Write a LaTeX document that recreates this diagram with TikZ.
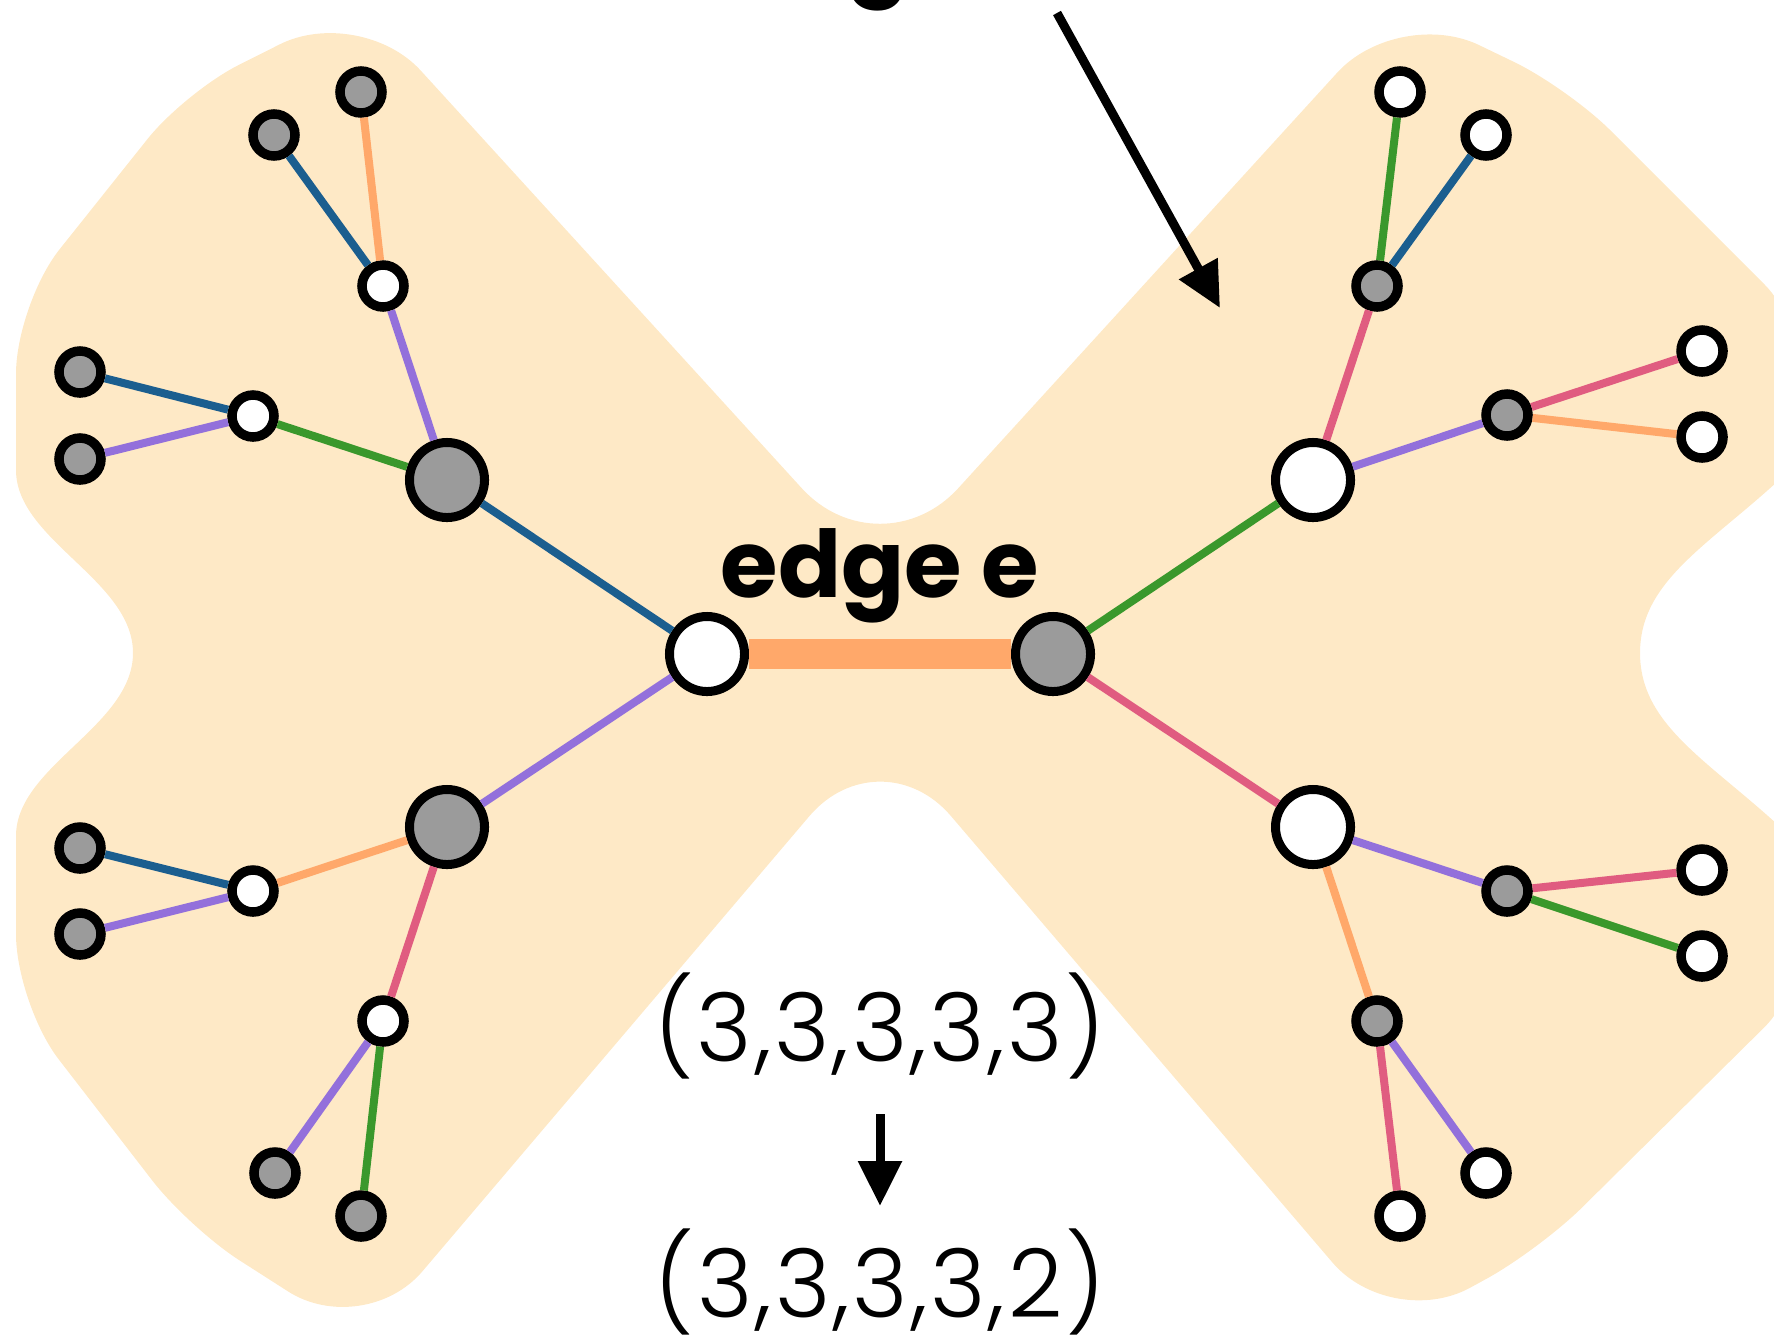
\documentclass[tikz,border=0pt]{standalone}
\usepackage{fontspec}
\setmainfont{Poppins}
\newfontfamily\seqfont{Poppins Light}[LetterSpace=3]
\usetikzlibrary{arrows.meta}
\definecolor{cblue}{RGB}{27,94,143}
\definecolor{cpurple}{RGB}{147,112,219}
\definecolor{cgreen}{RGB}{58,152,44}
\definecolor{cpink}{RGB}{224,92,128}
\definecolor{corange}{RGB}{255,168,106}
\definecolor{cblob}{RGB}{254,233,198}
\definecolor{cgray}{RGB}{155,155,155}
\begin{document}
\begin{tikzpicture}[x=0.01cm,y=-0.01cm,
  sm/.style={circle,draw=black,line width=0.095cm,minimum size=0.42cm,inner sep=0pt},
  bn/.style={circle,draw=black,line width=0.09cm,minimum size=0.75cm,inner sep=0pt},
  wh/.style={fill=white},
  gr/.style={fill=cgray},
  ed/.style={line width=0.08cm},
  bigarrow/.style={line width=0.09cm,-{Triangle[length=0.45cm,width=0.42cm]}},
  lbl/.style={inner sep=0pt,anchor=base,font=\fontsize{26.5pt}{30pt}\selectfont\bfseries},
  seq/.style={inner sep=0pt,anchor=base,font=\fontsize{27pt}{30pt}\selectfont\seqfont}]
\useasboundingbox (0,0) rectangle (1774,1336);
% background blob (radius of a corner is set just before the segment that reaches it)
\fill[cblob] (16,380) [rounded corners=7mm] -- (16,304) [rounded corners=6mm] -- (185,92)
  [rounded corners=9mm] -- (360,4) [rounded corners=11.6mm] -- (880,574)
  [rounded corners=9mm] -- (1398,6) [rounded corners=6mm] -- (1568,88)
  [rounded corners=5mm] -- (1800,320) [sharp corners] -- (1800,460)
  .. controls (1720,540) and (1640,575) .. (1640,653)
  .. controls (1640,731) and (1720,766) .. (1800,846)
  [rounded corners=5mm] -- (1800,992) [rounded corners=6mm] -- (1539,1250)
  [rounded corners=9mm] -- (1391,1331) [rounded corners=10.9mm] -- (880,733)
  [rounded corners=9mm] -- (364,1340) [rounded corners=6mm] -- (189,1228)
  [rounded corners=7mm] -- (16,1004) [sharp corners] -- (16,836)
  .. controls (16,766) and (133,726) .. (133,653)
  .. controls (133,580) and (16,540) .. (16,470) -- cycle;
% nodes
\node[bn,wh] (cL) at (707,654) {};
\node[bn,gr] (cR) at (1053,654) {};
\node[bn,gr] (LU) at (447,480) {};
\node[sm,wh] (LUa) at (383,286) {};
\node[sm,gr] (LUa1) at (274,135) {};
\node[sm,gr] (LUa2) at (361,92) {};
\node[sm,wh] (LUb) at (253,416) {};
\node[sm,gr] (LUb1) at (80,372) {};
\node[sm,gr] (LUb2) at (80,459) {};
\node[bn,gr] (LL) at (447,827) {};
\node[sm,wh] (LLb) at (253,891) {};
\node[sm,gr] (LLb1) at (80,848) {};
\node[sm,gr] (LLb2) at (80,934) {};
\node[sm,wh] (LLa) at (383,1021) {};
\node[sm,gr] (LLa1) at (275,1173) {};
\node[sm,gr] (LLa2) at (361,1216) {};
\node[bn,wh] (RU) at (1313,480) {};
\node[sm,gr] (RUa) at (1377,286) {};
\node[sm,wh] (RUa1) at (1400,92) {};
\node[sm,wh] (RUa2) at (1486,135) {};
\node[sm,gr] (RUb) at (1507,415) {};
\node[sm,wh] (RUb1) at (1702,351) {};
\node[sm,wh] (RUb2) at (1702,437) {};
\node[bn,wh] (RL) at (1313,827) {};
\node[sm,gr] (RLb) at (1507,891) {};
\node[sm,wh] (RLb1) at (1702,870) {};
\node[sm,wh] (RLb2) at (1702,956) {};
\node[sm,gr] (RLa) at (1377,1021) {};
\node[sm,wh] (RLa1) at (1486,1173) {};
\node[sm,wh] (RLa2) at (1400,1216) {};
% edges
\draw[corange,line width=0.3cm] (cL) -- (cR);
\draw[ed,cblue] (cL) -- (LU);
\draw[ed,cpurple] (LU) -- (LUa);
\draw[ed,cblue] (LUa) -- (LUa1);
\draw[ed,corange] (LUa) -- (LUa2);
\draw[ed,cgreen] (LU) -- (LUb);
\draw[ed,cblue] (LUb) -- (LUb1);
\draw[ed,cpurple] (LUb) -- (LUb2);
\draw[ed,cpurple] (cL) -- (LL);
\draw[ed,corange] (LL) -- (LLb);
\draw[ed,cblue] (LLb) -- (LLb1);
\draw[ed,cpurple] (LLb) -- (LLb2);
\draw[ed,cpink] (LL) -- (LLa);
\draw[ed,cpurple] (LLa) -- (LLa1);
\draw[ed,cgreen] (LLa) -- (LLa2);
\draw[ed,cgreen] (cR) -- (RU);
\draw[ed,cpink] (RU) -- (RUa);
\draw[ed,cgreen] (RUa) -- (RUa1);
\draw[ed,cblue] (RUa) -- (RUa2);
\draw[ed,cpurple] (RU) -- (RUb);
\draw[ed,cpink] (RUb) -- (RUb1);
\draw[ed,corange] (RUb) -- (RUb2);
\draw[ed,cpink] (cR) -- (RL);
\draw[ed,cpurple] (RL) -- (RLb);
\draw[ed,cpink] (RLb) -- (RLb1);
\draw[ed,cgreen] (RLb) -- (RLb2);
\draw[ed,corange] (RL) -- (RLa);
\draw[ed,cpink] (RLa) -- (RLa2);
\draw[ed,cpurple] (RLa) -- (RLa1);
% labels
\node[lbl] (edgelbl) at (880,597) {edge e};
\node[lbl] (toplbl) at (878,-15) {g};
\node[seq] (seqA) at (880,1061) {(3,3,3,3,3)};
\node[seq] (seqB) at (880,1317) {(3,3,3,3,2)};
% arrows
\coordinate (dA) at (880,1114);
\coordinate (dB) at (880,1206);
\draw[bigarrow] (dA) -- (dB);
\coordinate (tA) at (1057,13);
\coordinate (tB) at (1220,308);
\draw[bigarrow] (tA) -- (tB);
\end{tikzpicture}
\end{document}
